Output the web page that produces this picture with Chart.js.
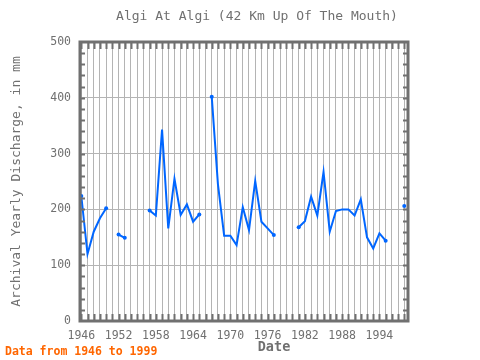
<!DOCTYPE html>
<html>
<head>
<meta charset="utf-8">
<script src="https://cdn.jsdelivr.net/npm/chart.js@4.4.1/dist/chart.umd.min.js"></script>
<style>
  body { margin: 0; background: #fff; }
</style>
</head>
<body>
<canvas id="discharge-chart" width="480" height="360"></canvas>
<script>
// yearly values, null = no data that year
var years = [1946, 1947, 1948, 1949, 1950, 1951, 1952, 1953, 1954, 1955,
             1956, 1957, 1958, 1959, 1960, 1961, 1962, 1963, 1964, 1965,
             1966, 1967, 1968, 1969, 1970, 1971, 1972, 1973, 1974, 1975,
             1976, 1977, 1978, 1979, 1980, 1981, 1982, 1983, 1984, 1985,
             1986, 1987, 1988, 1989, 1990, 1991, 1992, 1993, 1994, 1995,
             1996, 1997, 1998];
var discharge = [224, 120, 160, 184, 202, null, 155, 149, null, null,
                 null, 198, 189, 343, 166, 255, 190, 209, 178, 191,
                 null, 402, 245, 153, 153, 136, 204, 163, 251, 178,
                 166, 154, null, null, null, 168, 179, 223, 189, 267,
                 160, 197, 200, 200, 189, 218, 150, 130, 157, 144,
                 null, null, 206];
var xLabels = [1946, 1952, 1958, 1964, 1970, 1976, 1982, 1988, 1994];
var yLabels = [0, 100, 200, 300, 400, 500];

var points = [];
for (var i = 0; i < years.length; i++) {
    points.push({x: years[i], y: discharge[i]});
}

var mono = "'DejaVu Sans Mono', monospace";
var gray = '#707070';

// frame, inner tick marks and the loose texts round the plot
var framePlugin = {
    id: 'frame',
    afterDraw: function(chart) {
        var ctx = chart.ctx;
        var a = chart.chartArea;
        var xs = chart.scales.x, ys = chart.scales.y;
        ctx.save();
        ctx.strokeStyle = gray;
        ctx.lineWidth = 2;
        ctx.beginPath();
        for (var yr = Math.ceil(xs.min); yr <= xs.max; yr++) {
            var px = Math.round(xs.getPixelForValue(yr)) + 0.5;
            ctx.moveTo(px, a.bottom); ctx.lineTo(px, a.bottom - 7);
            ctx.moveTo(px, a.top); ctx.lineTo(px, a.top + 7);
        }
        for (var v = 20; v < 500; v += 20) {
            var py = Math.round(ys.getPixelForValue(v)) + 0.5;
            ctx.moveTo(a.left, py); ctx.lineTo(a.left + 5, py);
            ctx.moveTo(a.right, py); ctx.lineTo(a.right - 5, py);
        }
        ctx.stroke();
        ctx.lineWidth = 3;
        ctx.strokeRect(a.left, a.top, a.right - a.left, a.bottom - a.top);

        ctx.fillStyle = gray;
        ctx.textBaseline = 'middle';
        ctx.textAlign = 'center';
        ctx.font = '13px ' + mono;
        ctx.fillText('Algi At Algi (42 Km Up Of The Mouth)', 257, 17);
        ctx.font = 'bold 13.5px ' + mono;
        ctx.fillText('Date', 274, 347);
        ctx.save();
        ctx.translate(17, (a.top + a.bottom) / 2);
        ctx.rotate(-Math.PI / 2);
        ctx.font = '13px ' + mono;
        ctx.fillText('Archival Yearly Discharge, in mm', 0, 0);
        ctx.restore();
        ctx.textAlign = 'left';
        ctx.fillStyle = '#ff6600';
        ctx.font = 'bold 11.5px ' + mono;
        ctx.fillText('Data from 1946 to 1999', 5, 352);
        ctx.restore();
    }
};

var ctx = document.getElementById('discharge-chart').getContext('2d');
var chart = new Chart(ctx, {
    type: 'line',
    data: {
        datasets: [{
            label: 'Discharge',
            data: points,
            borderColor: '#0066ff',
            backgroundColor: '#0066ff',
            borderWidth: 2,
            fill: false,
            tension: 0,
            spanGaps: false,
            // dots only where a run of values starts or ends
            pointRadius: function(c) {
                var k = c.dataIndex;
                var prev = k > 0 ? discharge[k - 1] : null;
                var next = k < discharge.length - 1 ? discharge[k + 1] : null;
                return (prev === null || next === null) ? 2 : 0;
            },
            pointBorderWidth: 0
        }]
    },
    options: {
        responsive: false,
        animation: false,
        devicePixelRatio: 1,
        layout: { padding: { top: 42, right: 72, left: 0, bottom: 0 } },
        plugins: {
            legend: { display: false },
            title: { display: false },
            tooltip: { enabled: false }
        },
        scales: {
            x: {
                type: 'linear',
                min: 1945.79,
                max: 1998.6,
                afterFit: function(s) { s.height = 39; },
                // one tick (and grid line) per whole year
                afterBuildTicks: function(s) {
                    var t = [];
                    for (var yr = Math.ceil(s.min); yr <= s.max; yr++) t.push({value: yr});
                    s.ticks = t;
                },
                border: { display: false },
                grid: { color: '#b4b4b4', lineWidth: 1, drawTicks: false },
                ticks: {
                    autoSkip: false,
                    maxRotation: 0,
                    padding: 8,
                    color: gray,
                    font: { family: mono, size: 11.5 },
                    callback: function(v) {
                        return xLabels.indexOf(v) >= 0 ? String(v) : '';
                    }
                }
            },
            y: {
                min: 0,
                max: 500,
                afterFit: function(s) { s.width = 80; },
                border: { display: false },
                grid: { color: '#b4b4b4', lineWidth: 1, drawTicks: false },
                ticks: {
                    stepSize: 100,
                    padding: 9,
                    color: gray,
                    font: { family: mono, size: 11.5 },
                    callback: function(v) {
                        return yLabels.indexOf(v) >= 0 ? String(v) : '';
                    }
                }
            }
        }
    },
    plugins: [framePlugin]
});
</script>
</body>
</html>
